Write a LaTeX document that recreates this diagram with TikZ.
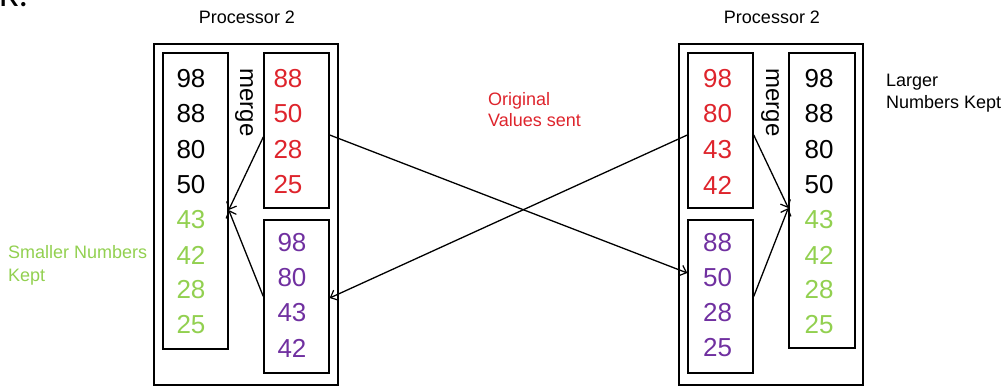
\documentclass[tikz,border=0pt]{standalone}
\usepackage{fontspec}
\setmainfont{Liberation Sans}
\newfontfamily\rfont{Carlito}
\usetikzlibrary{arrows.meta}
\definecolor{valred}{RGB}{222,36,44}
\definecolor{valpurple}{RGB}{112,48,160}
\definecolor{valgreen}{RGB}{146,208,80}
\tikzset{
  box/.style={draw=black, line width=1.4pt, inner sep=0pt, fill=none},
  num/.style={inner sep=0pt, font=\fontsize{26}{26}\selectfont},
  lbl/.style={inner sep=0pt, anchor=base west, font=\fontsize{18}{18}\selectfont},
  mergelbl/.style={inner sep=0pt, rotate=-90, font=\fontsize{24}{24}\selectfont},
  conn/.style={draw=black, line width=1.3pt, -{Straight Barb[length=6pt,width=11pt,line width=1.2pt]}},
}
\begin{document}
\begin{tikzpicture}[x=1pt,y=-1pt]
\useasboundingbox (0,0) rectangle (1005,386);

% cut-off heading
\node[inner sep=0pt, anchor=base west, font=\rfont\fontsize{36}{36}\selectfont] (hd) at (-1,6.5) {R.};

% titles
\node[inner sep=0pt, anchor=base, font=\fontsize{18}{18}\selectfont] (t1) at (247,23.5) {Processor 2};
\node[inner sep=0pt, anchor=base, font=\fontsize{18}{18}\selectfont] (t2) at (772,23.5) {Processor 2};

% boxes
\node[box, minimum width=184pt, minimum height=341pt] (lp) at (246,214.5) {};
\node[box, minimum width=65pt, minimum height=296pt] (lblk) at (195.5,201) {};
\node[box, minimum width=65pt, minimum height=155pt] (lred) at (296.5,130.5) {};
\node[box, minimum width=65pt, minimum height=153pt] (lpur) at (296.5,296.5) {};

\node[box, minimum width=184pt, minimum height=341pt] (rp) at (771,214.5) {};
\node[box, minimum width=65pt, minimum height=155pt] (rred) at (720.5,130.5) {};
\node[box, minimum width=65pt, minimum height=153pt] (rpur) at (720.5,296.5) {};
\node[box, minimum width=66pt, minimum height=295pt] (rblk) at (822,200.5) {};

% merge labels
\node[mergelbl] (lm) at (244,102.5) {merge};
\node[mergelbl] (rm) at (770,102.5) {merge};

% left black column
\node[num] (lb1) at (191,79) {98};
\node[num] (lb2) at (191,114) {88};
\node[num] (lb3) at (191,149.5) {80};
\node[num] (lb4) at (191,185) {50};
\node[num, text=valgreen] (lb5) at (191,220) {43};
\node[num, text=valgreen] (lb6) at (191,255) {42};
\node[num, text=valgreen] (lb7) at (191,290) {28};
\node[num, text=valgreen] (lb8) at (191,325) {25};

% left red column
\node[num, text=valred] (lr1) at (288,79) {88};
\node[num, text=valred] (lr2) at (288,114) {50};
\node[num, text=valred] (lr3) at (288,149.5) {28};
\node[num, text=valred] (lr4) at (288,185) {25};

% left purple column
\node[num, text=valpurple] (lq1) at (292,243) {98};
\node[num, text=valpurple] (lq2) at (292,278) {80};
\node[num, text=valpurple] (lq3) at (292,313) {43};
\node[num, text=valpurple] (lq4) at (292,348) {42};

% right red column
\node[num, text=valred] (rr1) at (717.5,79) {98};
\node[num, text=valred] (rr2) at (717.5,114) {80};
\node[num, text=valred] (rr3) at (717.5,149.5) {43};
\node[num, text=valred] (rr4) at (717.5,185) {42};

% right purple column
\node[num, text=valpurple] (rq1) at (717.5,243) {88};
\node[num, text=valpurple] (rq2) at (717.5,278) {50};
\node[num, text=valpurple] (rq3) at (717.5,313) {28};
\node[num, text=valpurple] (rq4) at (717.5,348) {25};

% right black column
\node[num] (rb1) at (819,79) {98};
\node[num] (rb2) at (819,114) {88};
\node[num] (rb3) at (819,149.5) {80};
\node[num] (rb4) at (819,185) {50};
\node[num, text=valgreen] (rb5) at (819,220) {43};
\node[num, text=valgreen] (rb6) at (819,255) {42};
\node[num, text=valgreen] (rb7) at (819,290) {28};
\node[num, text=valgreen] (rb8) at (819,325) {25};

% side labels
\node[lbl, text=valgreen] (sm1) at (8,258.5) {Smaller Numbers};
\node[lbl, text=valgreen] (sm2) at (8,281.5) {Kept};
\node[lbl] (lg1) at (886,86) {Larger};
\node[lbl] (lg2) at (886,108) {Numbers Kept};
\node[lbl, text=valred] (ov1) at (488,105.5) {Original};
\node[lbl, text=valred] (ov2) at (488,126.5) {Values sent};

% merge arrows, left processor
\draw[conn] ([yshift=-6.5pt]lred.west) -- ([yshift=-9pt]lblk.east);
\draw[conn] (lpur.west) -- ([yshift=-9pt]lblk.east);

% exchange arrows
\draw[conn] ([yshift=-4.5pt]lred.east) -- ([yshift=23.5pt]rpur.west);
\draw[conn] ([yshift=-4.5pt]rred.west) -- ([yshift=-1.5pt]lpur.east);

% merge arrows, right processor
\draw[conn] ([yshift=-4.5pt]rred.east) -- ([yshift=-7.5pt]rblk.west);
\draw[conn] (rpur.east) -- ([yshift=-7.5pt]rblk.west);
\end{tikzpicture}
\end{document}
